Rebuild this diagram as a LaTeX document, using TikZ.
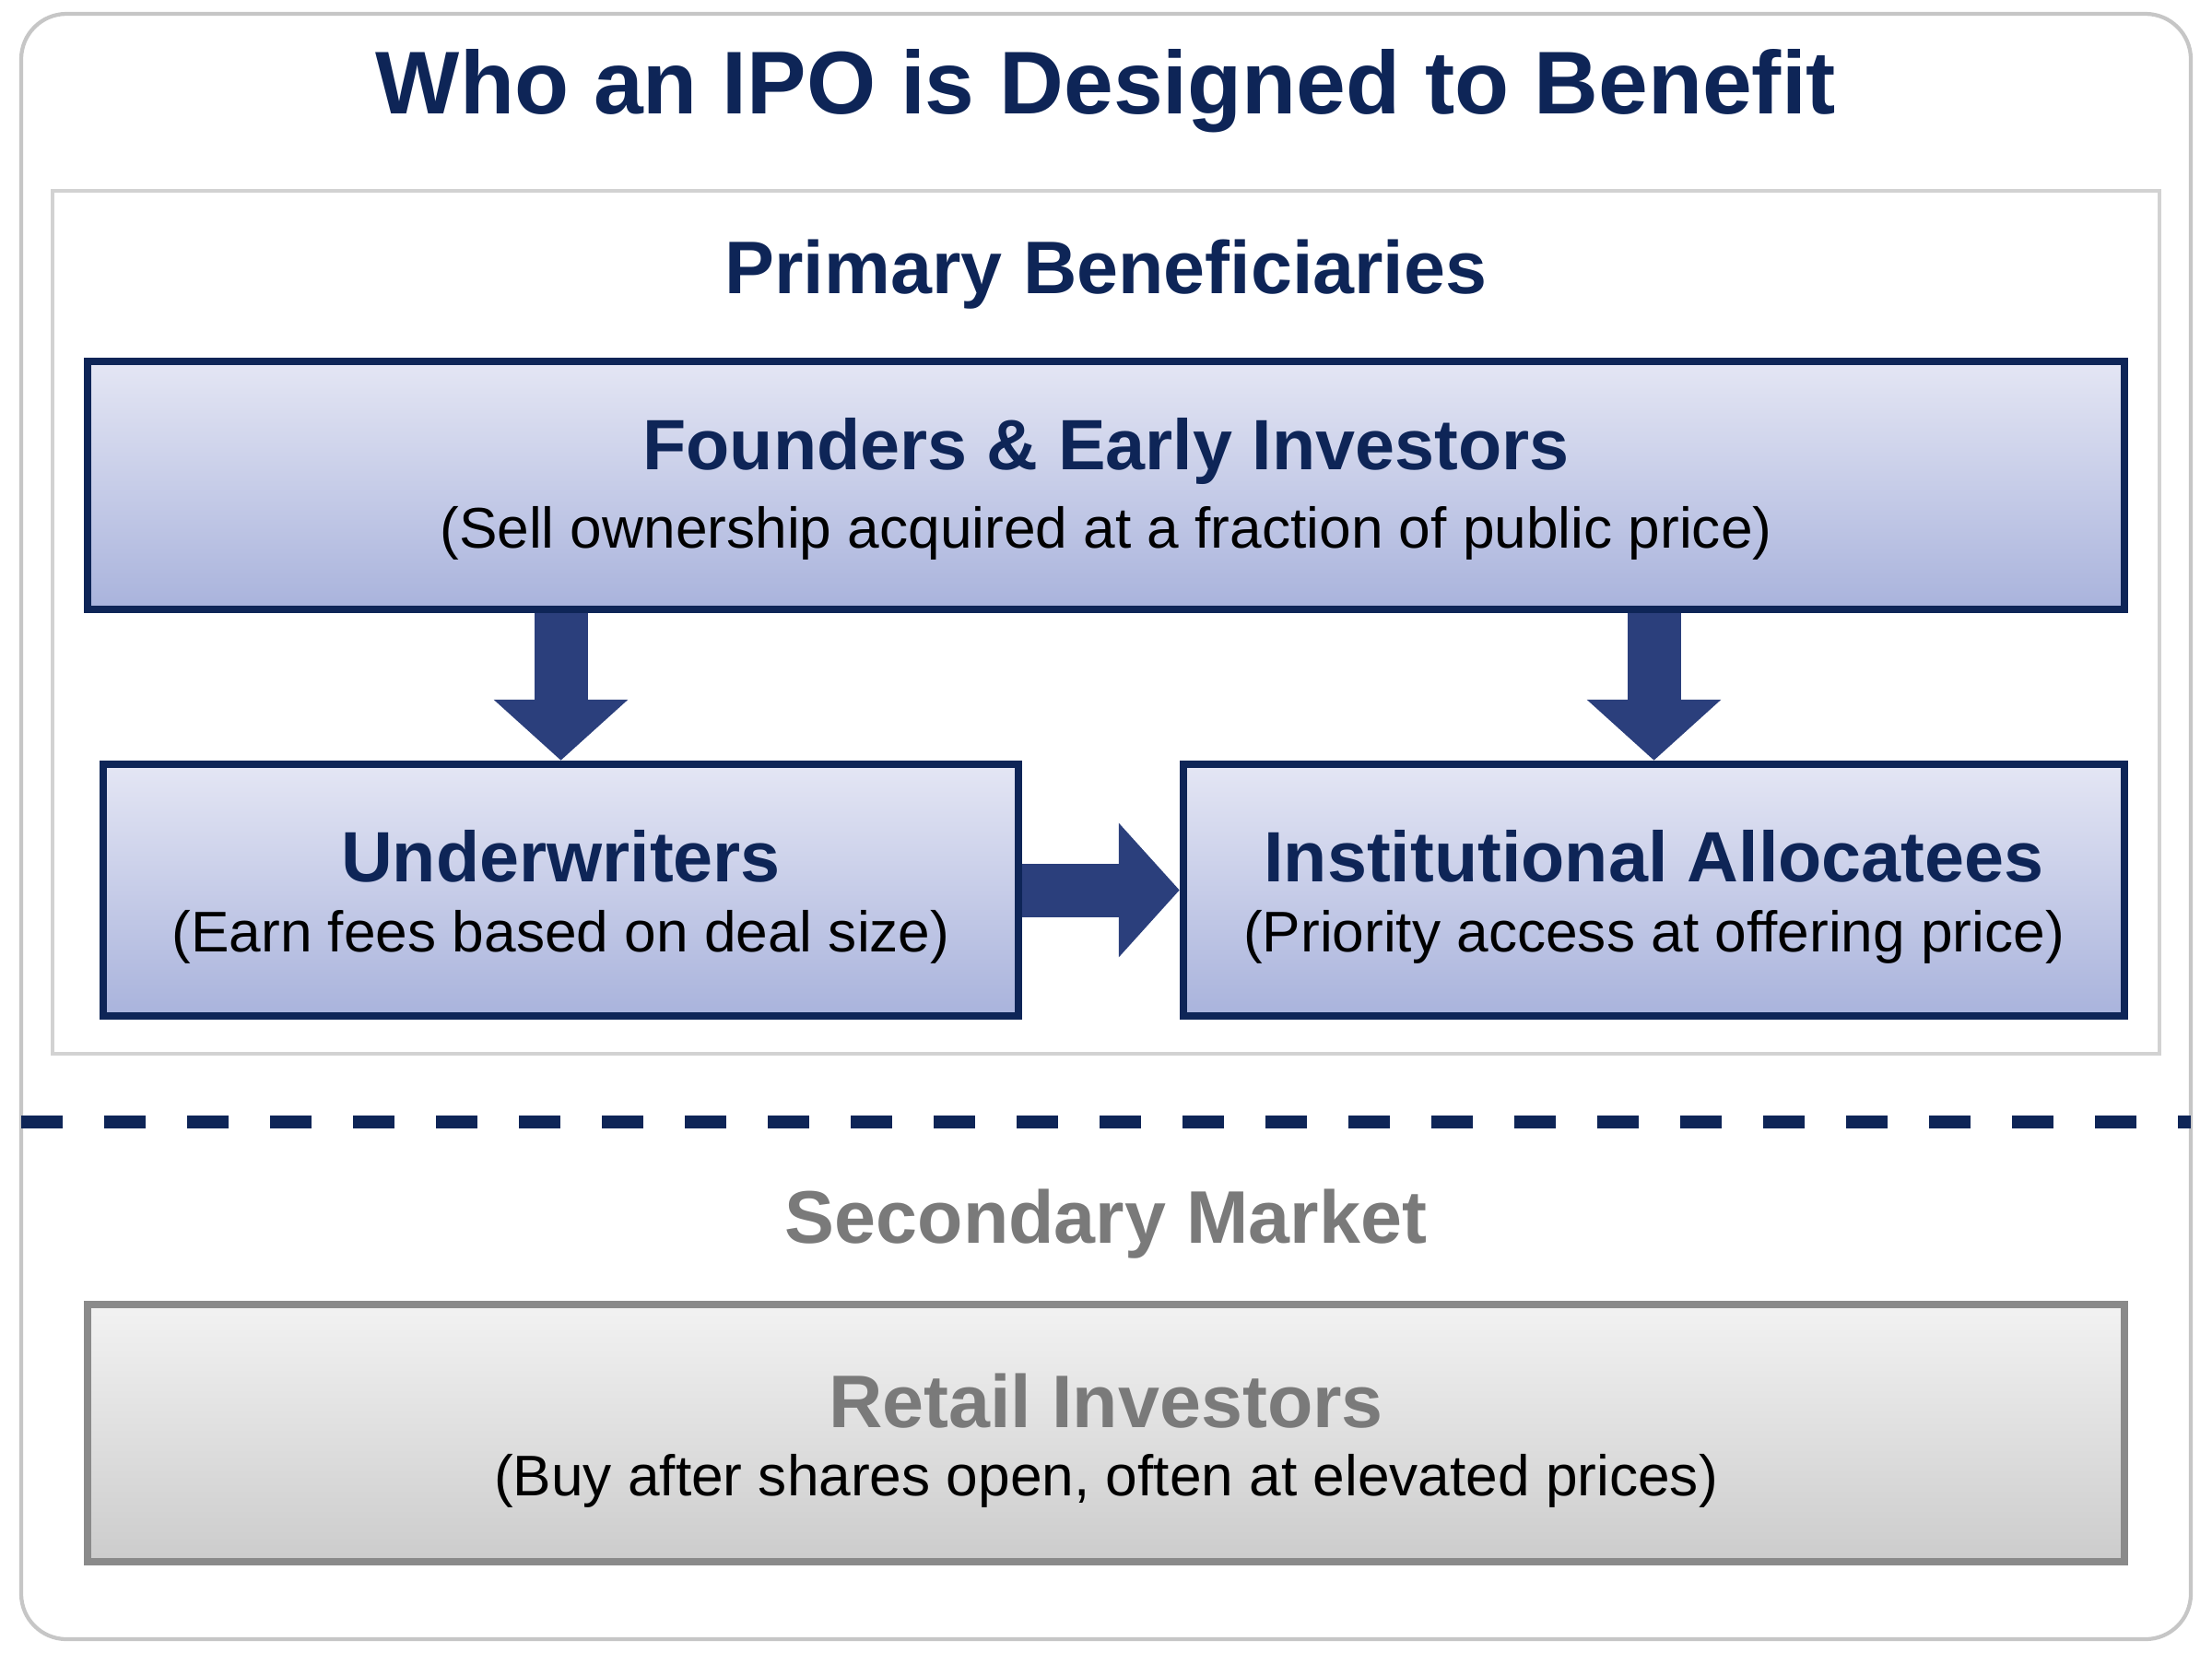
\documentclass[tikz,border=0pt]{standalone}
\usepackage{fontspec}
\setmainfont{Liberation Sans}
\usetikzlibrary{arrows.meta, positioning, calc}
\definecolor{navy}{HTML}{0E2557}
\definecolor{arrowblue}{HTML}{2B3F7C}
\definecolor{boxtop}{HTML}{E4E6F4}
\definecolor{boxbot}{HTML}{A9B3DC}
\definecolor{greytext}{HTML}{7A7A7A}
\definecolor{greyline}{HTML}{8A8A8A}
\tikzset{
    primBox/.style={draw=navy, line width=2.4pt, top color=boxtop, bottom color=boxbot, inner sep=0pt},
    secBox/.style={draw=greyline, line width=2.4pt, top color=white!90!gray, bottom color=gray!40, inner sep=0pt},
    headText/.style={font=\fontsize{22}{26}\selectfont\bfseries, text=navy},
    sectText/.style={font=\fontsize{23}{27}\selectfont\bfseries},
    subText/.style={font=\fontsize{17.7}{21}\selectfont, text=black},
    bigArrow/.style={line width=0.58cm, arrowblue, -{Triangle[length=0.66cm, width=1.42cm]}},
}
\begin{document}
\begin{tikzpicture}
    \useasboundingbox (0,0) rectangle (24,-17.92);
    % frames
    \draw[gray!45, line width=1.2pt, rounded corners=14pt] (0.23,-0.15) rectangle (23.77,-17.78);
    \draw[gray!35, line width=1.2pt] (0.57,-2.07) rectangle (23.43,-11.43);

    % titles
    \node[font=\fontsize{27.5}{32}\selectfont\bfseries, text=navy] (title) at (12,-0.99) {Who an IPO is Designed to Benefit};
    \node[sectText, text=navy] (prim) at (12,-2.98) {Primary Beneficiaries};

    % boxes
    \node[primBox, minimum width=22.1cm, minimum height=2.69cm] (found) at (12,-5.265) {};
    \node[headText] at ($(found.center)+(0,0.37)$) {Founders \& Early Investors};
    \node[subText] at ($(found.center)+(0,-0.52)$) {(Sell ownership acquired at a fraction of public price)};

    \node[primBox, minimum width=9.93cm, minimum height=2.73cm] (under) at (6.085,-9.655) {};
    \node[headText] at ($(under.center)+(0,0.37)$) {Underwriters};
    \node[subText] at ($(under.center)+(0,-0.51)$) {(Earn fees based on deal size)};

    \node[primBox, minimum width=10.21cm, minimum height=2.73cm] (inst) at (17.945,-9.655) {};
    \node[headText] at ($(inst.center)+(0,0.37)$) {Institutional Allocatees};
    \node[subText] at ($(inst.center)+(0,-0.51)$) {(Priority access at offering price)};

    % arrows
    \draw[bigArrow] (found.south -| under.north) -- (under.north);
    \draw[bigArrow] (found.south -| inst.north) -- (inst.north);
    \draw[bigArrow] (under.east) -- (inst.west);

    % divider
    \draw[navy, line width=4pt, dash pattern=on 0.45cm off 0.45cm] (0.23,-12.17) -- (23.77,-12.17);

    % secondary
    \node[sectText, text=greytext] (sec) at (12,-13.28) {Secondary Market};
    \node[secBox, minimum width=22.1cm, minimum height=2.79cm] (retail) at (12,-15.545) {};
    \node[sectText, text=greytext] at ($(retail.center)+(0,0.35)$) {Retail Investors};
    \node[subText] at ($(retail.center)+(0,-0.52)$) {(Buy after shares open, often at elevated prices)};
\end{tikzpicture}
\end{document}
